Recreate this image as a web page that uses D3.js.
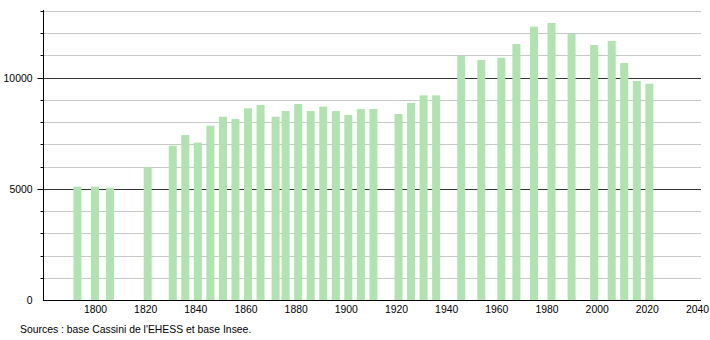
<!DOCTYPE html>
<html><head><meta charset="utf-8">
<script src="https://cdn.jsdelivr.net/npm/d3@7"></script>
<style>body{margin:0;background:#fff}svg{display:block}text{font-family:"Liberation Sans",Arial,sans-serif}</style>
</head><body><svg id="c" width="710" height="340"></svg>
<script>
const years = [1793,1800,1806,1821,1831,1836,1841,1846,1851,1856,1861,1866,1872,1876,1881,1886,1891,1896,1901,1906,1911,1921,1926,1931,1936,1946,1954,1962,1968,1975,1982,1990,1999,2006,2011,2016,2021];
const population = [5100,5100,5050,5970,6940,7420,7080,7840,8245,8140,8620,8770,8245,8500,8815,8500,8695,8500,8320,8590,8590,8365,8860,9205,9205,10990,10795,10900,11515,12295,12460,11965,11470,11650,10660,9850,9730];
const xTicks = [1800,1820,1840,1860,1880,1900,1920,1940,1960,1980,2000,2020,2040];
const yLabelTicks = [0,5000,10000];
const sourceText = "Sources : base Cassini de l'EHESS et base Insee.";

const svg = d3.select("#c");
const x = d3.scaleLinear().domain([1800, 2040]).range([95, 697]);
const y = d3.scaleLinear().domain([0, 13000]).range([300, 11]);
const minorTicks = d3.range(1000, 13001, 1000);
const fs = 10.4;

// gridlines
svg.append("g").selectAll("line").data(minorTicks).join("line")
  .attr("x1", 43).attr("x2", 701)
  .attr("y1", d => Math.round(y(d)) + 0.5).attr("y2", d => Math.round(y(d)) + 0.5)
  .attr("stroke", d => d % 5000 === 0 ? "#333" : "#c8c8c8").attr("stroke-width", 1);

// bars
svg.append("g").selectAll("rect").data(years).join("rect")
  .attr("x", (d) => x(d) - 4).attr("width", 8)
  .attr("y", (d, i) => y(population[i])).attr("height", (d, i) => y(0) - y(population[i]))
  .attr("fill", "#b0e3b0");

// y axis
const yAxis = svg.append("g").attr("transform", "translate(43.5,0)");
yAxis.append("line").attr("x1", 0).attr("x2", 0).attr("y1", 10).attr("y2", 300).attr("stroke", "#000");
yAxis.selectAll("line.t").data(minorTicks).join("line").attr("class", "t")
  .attr("x1", d => d % 5000 === 0 ? -6 : -3).attr("x2", 0)
  .attr("y1", d => Math.round(y(d)) + 0.5).attr("y2", d => Math.round(y(d)) + 0.5).attr("stroke", "#000");
yAxis.selectAll("text").data(yLabelTicks).join("text")
  .attr("x", -11).attr("y", d => y(d) + 4).attr("text-anchor", "end")
  .attr("font-size", fs).attr("fill", "#000").text(d => d);

// x axis
const xAxis = d3.axisBottom(x).tickValues(xTicks).tickSize(0).tickPadding(5).tickFormat(d3.format("d"));
const gx = svg.append("g").attr("transform", "translate(0,300.5)").call(xAxis);
gx.select(".domain").attr("d", "M43,0H701").attr("stroke", "#000");
gx.selectAll("text").attr("font-size", fs).attr("font-family", "Liberation Sans, Arial, sans-serif").attr("fill", "#000");

svg.append("text").attr("x", 20).attr("y", 333).attr("font-size", fs).attr("fill", "#000").text(sourceText);
</script></body></html>
